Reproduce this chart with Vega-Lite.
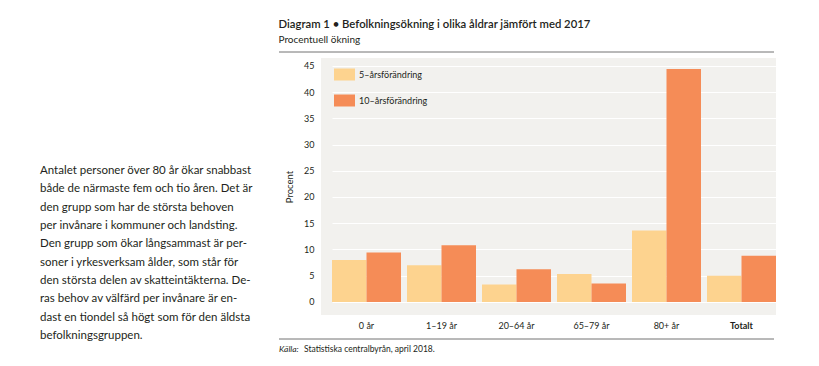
{
  "$schema": "https://vega.github.io/schema/vega-lite/v6.json",
  "padding": {"left": 40, "top": 18, "right": 0, "bottom": 0},
  "background": "white",
  "config": {
    "font": "Lato",
    "view": {"stroke": null, "fill": "white"}
  },
  "datasets": {
    "para": [
      {"line": 1, "text": "Antalet personer över 80 år ökar snabbast"},
      {"line": 2, "text": "både de närmaste fem och tio åren. Det är"},
      {"line": 3, "text": "den grupp som har de största behoven"},
      {"line": 4, "text": "per invånare i kommuner och landsting."},
      {"line": 5, "text": "Den grupp som ökar långsammast är per-"},
      {"line": 6, "text": "soner i yrkesverksam ålder, som står för"},
      {"line": 7, "text": "den största delen av skatteintäkterna. De-"},
      {"line": 8, "text": "ras behov av välfärd per invånare är en-"},
      {"line": 9, "text": "dast en tiondel så högt som för den äldsta"},
      {"line": 10, "text": "befolkningsgruppen."}
    ],
    "bars": [
      {"grupp": "0 år", "serie": "5–årsförändring", "procent": 8.0},
      {"grupp": "0 år", "serie": "10–årsförändring", "procent": 9.4},
      {"grupp": "1–19 år", "serie": "5–årsförändring", "procent": 7.0},
      {"grupp": "1–19 år", "serie": "10–årsförändring", "procent": 10.8},
      {"grupp": "20–64 år", "serie": "5–årsförändring", "procent": 3.3},
      {"grupp": "20–64 år", "serie": "10–årsförändring", "procent": 6.2},
      {"grupp": "65–79 år", "serie": "5–årsförändring", "procent": 5.3},
      {"grupp": "65–79 år", "serie": "10–årsförändring", "procent": 3.5},
      {"grupp": "80+ år", "serie": "5–årsförändring", "procent": 13.6},
      {"grupp": "80+ år", "serie": "10–årsförändring", "procent": 44.4},
      {"grupp": "Totalt", "serie": "5–årsförändring", "procent": 5.0},
      {"grupp": "Totalt", "serie": "10–årsförändring", "procent": 8.8}
    ]
  },
  "spacing": 8,
  "resolve": {"scale": {"color": "independent"}, "legend": {"color": "independent"}},
  "hconcat": [
    {
      "width": 230,
      "height": 300,
      "data": {"name": "para"},
      "mark": {"type": "text", "align": "left", "baseline": "middle", "fontSize": 11.5, "color": "#231f20"},
      "encoding": {
        "x": {"datum": 0, "type": "quantitative", "scale": {"domain": [0, 1]}, "axis": null},
        "y": {"field": "line", "type": "quantitative", "scale": {"domain": [-5.55, 10.82], "reverse": true, "nice": false, "zero": false}, "axis": null},
        "text": {"field": "text"}
      }
    },
    {
      "spacing": 5,
      "resolve": {"scale": {"color": "independent"}, "legend": {"color": "independent"}},
      "vconcat": [
        {
          "width": 455,
          "height": 1,
          "title": {
            "text": "Diagram 1 • Befolkningsökning i olika åldrar jämfört med 2017",
            "subtitle": "Procentuell ökning",
            "anchor": "start",
            "frame": "bounds",
            "fontSize": 11.3,
            "fontWeight": 600,
            "color": "#231f20",
            "subtitleFontSize": 10,
            "subtitleColor": "#231f20",
            "subtitlePadding": 5,
            "offset": 6
          },
          "data": {"values": [{"a": 0, "b": 1, "v": 0}]},
          "mark": {"type": "rule", "stroke": "#727272", "strokeWidth": 1},
          "encoding": {
            "x": {"field": "a", "type": "quantitative", "scale": {"domain": [0, 1], "range": [-42, 453]}, "axis": null},
            "x2": {"field": "b"},
            "y": {"field": "v", "type": "quantitative", "scale": {"domain": [0, 1]}, "axis": null}
          }
        },
        {
          "width": 455,
          "height": 257,
          "view": {"fill": "#f2f1ee", "stroke": null},
          "data": {"name": "bars"},
          "mark": {"type": "bar"},
          "encoding": {
            "x": {
              "field": "grupp",
              "type": "nominal",
              "sort": ["0 år", "1–19 år", "20–64 år", "65–79 år", "80+ år", "Totalt"],
              "scale": {"range": [11, 455], "paddingInner": 0.08, "paddingOuter": 0},
              "axis": {
                "title": null,
                "domain": false,
                "ticks": false,
                "labelAngle": 0,
                "labelFontSize": 9,
                "labelPadding": 6,
                "labelColor": "#231f20",
                "labelFontWeight": {"condition": {"test": "datum.value === 'Totalt'", "value": "bold"}, "value": "normal"}
              }
            },
            "xOffset": {
              "field": "serie",
              "type": "nominal",
              "sort": ["5–årsförändring", "10–årsförändring"],
              "scale": {"paddingInner": 0, "paddingOuter": 0}
            },
            "y": {
              "field": "procent",
              "type": "quantitative",
              "scale": {"domain": [-2.5, 46.5], "nice": false},
              "axis": {
                "title": "Procent",
                "titleFontSize": 9.5,
                "titleFontWeight": "normal",
                "titleColor": "#231f20",
                "titlePadding": 9,
                "values": [0, 5, 10, 15, 20, 25, 30, 35, 40, 45],
                "domain": false,
                "ticks": false,
                "labelFontSize": 9,
                "labelPadding": 7,
                "labelColor": "#231f20",
                "gridColor": "white",
                "gridWidth": 1,
                "gridOpacity": 1
              }
            },
            "color": {
              "field": "serie",
              "type": "nominal",
              "scale": {"domain": ["5–årsförändring", "10–årsförändring"], "range": ["#fdd38f", "#f58c57"]},
              "legend": {
                "title": null,
                "orient": "none",
                "legendX": 13,
                "legendY": 6,
                "direction": "vertical",
                "symbolType": "M-1,-0.571H1V0.571H-1Z",
                "symbolSize": 441,
                "symbolStrokeWidth": 0,
                "symbolOpacity": 1,
                "labelFontSize": 9,
                "labelOffset": 4,
                "labelColor": "#231f20",
                "rowPadding": 9
              }
            }
          }
        },
        {
          "width": 455,
          "height": 18,
          "layer": [
            {
              "data": {"values": [{"a": 0, "b": 1, "v": 4}]},
              "mark": {"type": "rule", "stroke": "#727272", "strokeWidth": 1},
              "encoding": {
                "x": {"field": "a", "type": "quantitative", "scale": {"domain": [0, 1], "range": [-42, 453]}, "axis": null},
                "x2": {"field": "b"},
                "y": {"field": "v", "type": "quantitative", "scale": {"domain": [0, 18], "reverse": true, "nice": false}, "axis": null}
              }
            },
            {
              "data": {"values": [{"a": 0, "v": 14, "t": "Källa:"}]},
              "mark": {"type": "text", "align": "left", "baseline": "middle", "fontSize": 8.5, "fontStyle": "italic", "color": "#231f20"},
              "encoding": {
                "x": {"field": "a", "type": "quantitative", "axis": null},
                "y": {"field": "v", "type": "quantitative", "axis": null},
                "text": {"field": "t"}
              }
            },
            {
              "data": {"values": [{"a": 0, "v": 14, "t": "Statistiska centralbyrån, april 2018."}]},
              "mark": {"type": "text", "align": "left", "baseline": "middle", "fontSize": 8.5, "color": "#231f20", "dx": 25},
              "encoding": {
                "x": {"field": "a", "type": "quantitative", "axis": null},
                "y": {"field": "v", "type": "quantitative", "axis": null},
                "text": {"field": "t"}
              }
            }
          ]
        }
      ]
    }
  ]
}
